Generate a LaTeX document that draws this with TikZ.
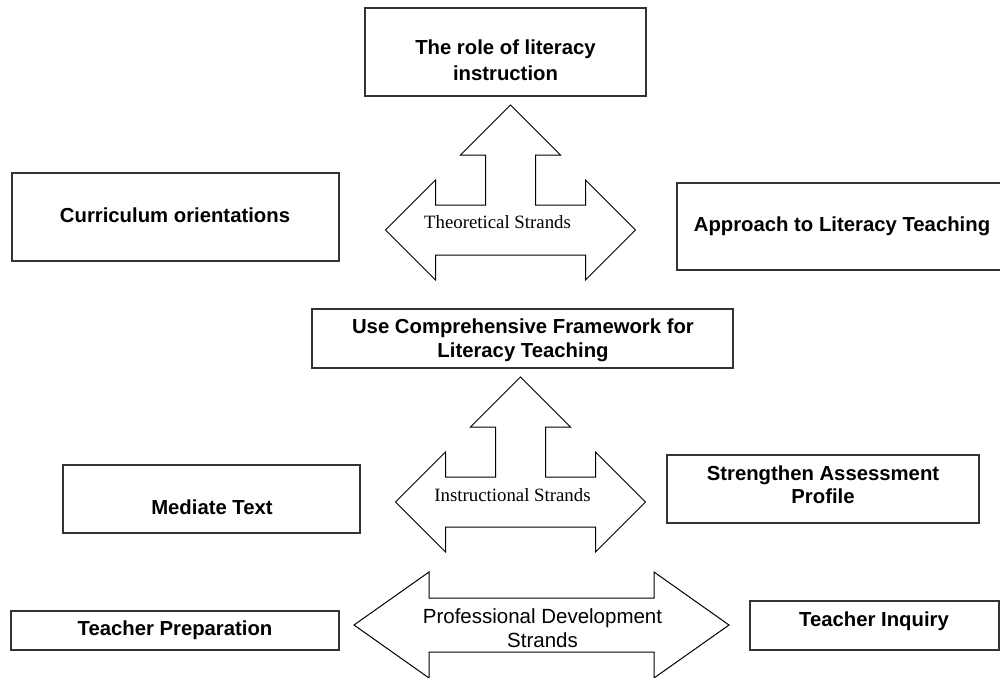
\documentclass[tikz,border=0pt]{standalone}
\usepackage{fontspec}
\setmainfont{Liberation Serif}
\setsansfont{Liberation Sans}
\definecolor{boxline}{HTML}{333333}
\tikzset{
  boxnode/.style={draw=boxline, line width=1.4pt, inner sep=0pt},
  boldlbl/.style={font=\sffamily\bfseries\fontsize{20.3}{23.3}\selectfont, inner sep=0pt, anchor=base},
  plainlbl/.style={font=\sffamily\fontsize{20.5}{23.3}\selectfont, inner sep=0pt, anchor=base},
  seriflbl/.style={font=\rmfamily\fontsize{18.8}{22}\selectfont, inner sep=0pt, anchor=base},
  strand/.style={draw=black, line width=1pt, line join=miter},
  threeway/.pic={
    \draw[strand] (0,-125) -- (50,-75) -- (25,-75) -- (25,-25) -- (75,-25) -- (75,-50)
      -- (125,0) -- (75,50) -- (75,25) -- (-75,25) -- (-75,50) -- (-125,0)
      -- (-75,-50) -- (-75,-25) -- (-25,-25) -- (-25,-75) -- (-50,-75) -- cycle;
  }
}
\begin{document}
\begin{tikzpicture}[x=1pt, y=-1pt]
\useasboundingbox (0,0) rectangle (1000,677);
\clip (0,0) rectangle (1000,677);
\fill[white] (0,0) rectangle (1000,677);

% boxes
\node[boxnode, minimum width=281pt, minimum height=88pt] (role) at (505.5,52) {};
\node[boxnode, minimum width=327pt, minimum height=88pt] (curr) at (175.5,217) {};
\node[boxnode, minimum width=331pt, minimum height=87pt] (appr) at (842.5,226.5) {};
\node[boxnode, minimum width=421pt, minimum height=59pt] (ucf) at (522.5,338.5) {};
\node[boxnode, minimum width=297pt, minimum height=68pt] (med) at (211.5,499) {};
\node[boxnode, minimum width=312pt, minimum height=68pt] (str) at (823,489) {};
\node[boxnode, minimum width=328pt, minimum height=39pt] (tp) at (175,630.5) {};
\node[boxnode, minimum width=249pt, minimum height=49pt] (ti) at (874.5,625.5) {};

% box labels
\node[boldlbl] (roleA) at (505.5,55) {The role of literacy};
\node[boldlbl] (roleB) at (505.5,80) {instruction};
\node[boldlbl] (currT) at (175,222) {Curriculum orientations};
\node[boldlbl] (apprT) at (842,231) {Approach to Literacy Teaching};
\node[boldlbl] (ucfA) at (523,333) {Use Comprehensive Framework for};
\node[boldlbl] (ucfB) at (523,357) {Literacy Teaching};
\node[boldlbl] (medT) at (212,514) {Mediate Text};
\node[boldlbl] (strA) at (823,480) {Strengthen Assessment};
\node[boldlbl] (strB) at (823,503) {Profile};
\node[boldlbl] (tpT) at (175,635) {Teacher Preparation};
\node[boldlbl] (tiT) at (874,626) {Teacher Inquiry};

% strand arrows
\pic at (510.5,230) {threeway};
\pic at (520.5,502) {threeway};
\draw[strand] (354,625) -- (429,572) -- (429,598) -- (654,598) -- (654,572) -- (729,625)
  -- (654,678) -- (654,652) -- (429,652) -- (429,678) -- cycle;

% strand labels
\node[seriflbl] (theo) at (497.5,228) {Theoretical Strands};
\node[seriflbl] (instr) at (512.5,501) {Instructional Strands};
\node[plainlbl] (profA) at (542.5,623) {Professional Development};
\node[plainlbl] (profB) at (542.5,647) {Strands};
\end{tikzpicture}
\end{document}
